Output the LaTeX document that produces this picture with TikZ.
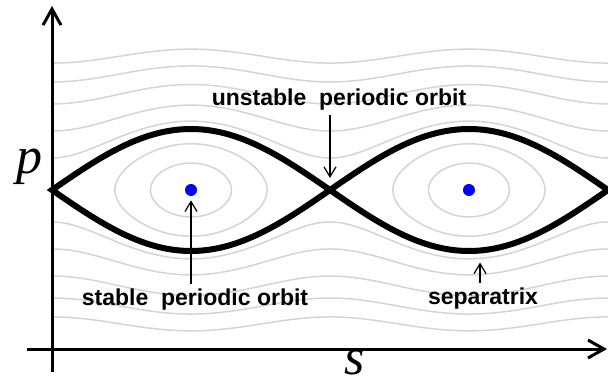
\documentclass[tikz,border=0pt]{standalone}
\usepackage{fontspec}
\setmainfont{Liberation Sans}
\newfontfamily\axisfont{Liberation Serif}
\usetikzlibrary{arrows.meta,positioning,calc}

\begin{document}
\begin{tikzpicture}[
    x=0.5pt, y=0.5pt,
    font=\fontsize{11.5}{13}\selectfont\bfseries,
    axis/.style={line width=1.5pt, -{Straight Barb[length=8pt,width=9pt]}},
    sep/.style={line width=3pt, line join=miter},
    orbit/.style={black!17, line width=0.75pt},
    lbl/.style={inner sep=1pt, anchor=base},
    arr/.style={line width=0.6pt, -{Straight Barb[length=5pt,width=6pt]}},
    fixpt/.style={circle, fill=blue, inner sep=0pt, minimum size=6pt},
    var/.style={font=\axisfont\itshape\fontsize{26}{26}\selectfont, inner sep=0pt}
  ]
  \useasboundingbox (0,0) rectangle (608,385);

  % phase portrait (angle in radians, momentum in units)
  \begin{scope}[shift={(191,195)}, x=22.12pt, y=15.25pt]
    % rotating orbits
    \foreach \E in {2.55,3.87,5.98,8.27,10.66}{
      \draw[orbit] plot[domain=-pi:3*pi, samples=120, smooth]
        (\x, {sqrt(2*(\E-1+cos(deg(\x))))});
      \draw[orbit] plot[domain=-pi:3*pi, samples=120, smooth]
        (\x, {-sqrt(2*(\E-1+cos(deg(\x))))});
    }
    % librations
    \foreach \k in {0.4416,0.758}{
      \foreach \c in {0,2*pi}{
        \draw[orbit] plot[domain=0:360, samples=90, smooth, variable=\t]
          ({\c+2*rad(asin(\k*sin(\t)))}, {2*\k*cos(\t)}) -- cycle;
      }
    }
    % separatrix
    \draw[sep] plot[domain=-pi:3*pi, samples=161] (\x, {2*abs(cos(deg(\x/2)))})
      -- plot[domain=3*pi:-pi, samples=161] (\x, {-2*abs(cos(deg(\x/2)))}) -- cycle;

    % fixed points
    \node[fixpt] (c1) at (0,0) {};
    \node[fixpt] (c2) at ({2*pi},0) {};
    \coordinate (x1) at ({pi},0);
    \coordinate (sepb) at ({2*pi+0.25},-1.985);
  \end{scope}

  % axes
  \coordinate (ybot) at (52,13);
  \coordinate (ytop) at (52,379);
  \coordinate (xlft) at (27,36);
  \coordinate (xrgt) at (607,36);
  \draw[axis] (ybot) -- (ytop);
  \draw[axis] (xlft) -- (xrgt);
  \node[var] (pl) at (29,218) {p};
  \node[var, anchor=base] (sl) at (355,11) {s};

  % labels
  \node[lbl] (unst) at (339,279) {unstable~ periodic orbit};
  \node[lbl] (stab) at (195,80) {stable~ periodic orbit};
  \node[lbl] (sepl) at (483,81) {separatrix};

  \draw[arr, shorten <=1pt, shorten >=6pt] (unst.south -| x1) -- (x1);
  \draw[arr, shorten <=1pt, shorten >=2pt] (stab.north -| c1) -- (c1);
  \draw[arr, shorten <=1pt, shorten >=6pt] (sepl.north -| sepb) -- (sepb);
\end{tikzpicture}
\end{document}
